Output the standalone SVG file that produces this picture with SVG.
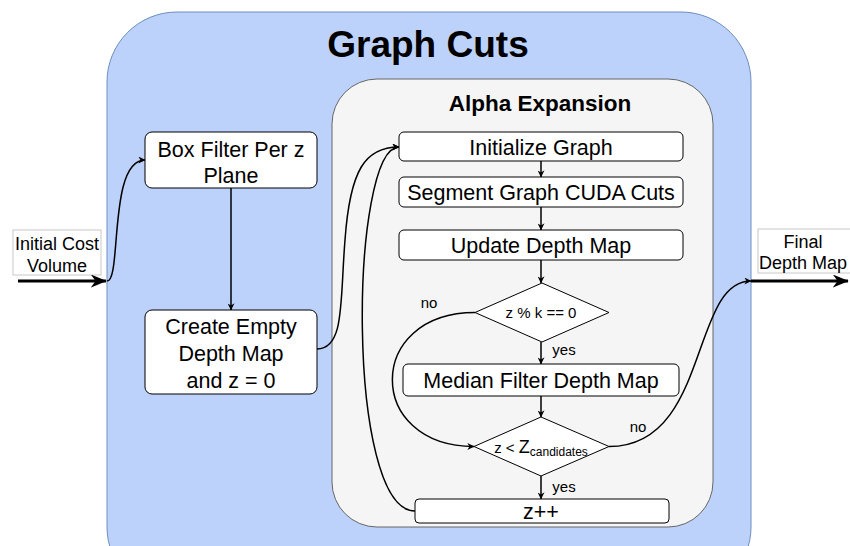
<svg xmlns="http://www.w3.org/2000/svg" width="850" height="546" viewBox="0 0 850 546">
  <defs>
    <style>
      text { font-family: "Liberation Sans", Arial, Helvetica, sans-serif; fill: #000; }
      .node { fill: #ffffff; stroke: #000; stroke-width: 1; }
      .lbl { fill: #ffffff; stroke: #c8c8c8; stroke-width: 1; }
      .t { font-size: 21.5px; text-anchor: middle; }
      .io { font-size: 18px; text-anchor: middle; }
      .s { font-size: 15px; }
      .edge { fill: none; stroke: #000; stroke-width: 1.5; }
      .thick { fill: none; stroke: #000; stroke-width: 3; }
    </style>
    <marker id="arr" viewBox="0 0 10 10" refX="9.5" refY="5" markerWidth="7" markerHeight="7" markerUnits="userSpaceOnUse" orient="auto">
      <path d="M0,0 L10,5 L0,10 L3,5 Z" fill="#000"/>
    </marker>
    <marker id="arrBig" viewBox="0 0 10 10" refX="9.5" refY="5" markerWidth="16" markerHeight="13" markerUnits="userSpaceOnUse" orient="auto" preserveAspectRatio="none">
      <path d="M0,0 L10,5 L0,10 L3,5 Z" fill="#000"/>
    </marker>
  </defs>

  <!-- outer container -->
  <g id="graph-cuts">
    <rect x="107" y="12" width="644" height="585" rx="70" ry="70" fill="#bdd2fb" stroke="#6c8ebf" stroke-width="1"/>
    <text x="428" y="57" font-size="37" font-weight="bold" text-anchor="middle">Graph Cuts</text>
  </g>

  <!-- inner container -->
  <g id="alpha-expansion">
    <rect x="332" y="79" width="381" height="448" rx="45" ry="45" fill="#f5f5f5" stroke="#666666" stroke-width="1"/>
    <text x="540" y="111" font-size="22.5" font-weight="bold" text-anchor="middle">Alpha Expansion</text>
  </g>

  <g id="initial-cost-volume">
    <rect class="lbl" x="13" y="230" width="88" height="45"/>
    <text class="io" x="57" y="250">Initial Cost</text>
    <text class="io" x="57" y="272">Volume</text>
  </g>

  <g id="final-depth-map">
    <rect class="lbl" x="758" y="229" width="95" height="44"/>
    <text class="io" x="803" y="248">Final</text>
    <text class="io" x="803" y="269">Depth Map</text>
  </g>

  <g id="box-filter">
    <rect class="node" x="145" y="132" width="172" height="56" rx="7"/>
    <text class="t" x="231" y="157">Box Filter Per z</text>
    <text class="t" x="231" y="183">Plane</text>
  </g>

  <g id="create-empty">
    <rect class="node" x="145" y="310" width="172" height="84" rx="7"/>
    <text class="t" x="231" y="334">Create Empty</text>
    <text class="t" x="231" y="361">Depth Map</text>
    <text class="t" x="231" y="388">and z = 0</text>
  </g>

  <g id="initialize-graph">
    <rect class="node" x="399" y="132" width="284" height="29" rx="5"/>
    <text class="t" x="541" y="155">Initialize Graph</text>
  </g>

  <g id="segment-graph">
    <rect class="node" x="399" y="177" width="284" height="30" rx="5"/>
    <text class="t" x="541" y="200">Segment Graph CUDA Cuts</text>
  </g>

  <g id="update-depth">
    <rect class="node" x="399" y="230" width="284" height="30" rx="5"/>
    <text class="t" x="541" y="253">Update Depth Map</text>
  </g>

  <g id="check-k">
    <polygon class="node" points="542,283 609,312.5 542,342 475,312.5"/>
    <text x="541" y="318" font-size="15" text-anchor="middle">z % k == 0</text>
  </g>

  <g id="median-filter">
    <rect class="node" x="403" y="364" width="276" height="32" rx="5"/>
    <text class="t" x="541" y="388">Median Filter Depth Map</text>
  </g>

  <g id="check-z">
    <polygon class="node" points="541,417 609,446.5 541,476 474,446.5"/>
    <text x="541" y="453" text-anchor="middle"><tspan font-size="15">z &lt; </tspan><tspan font-size="18">Z</tspan><tspan font-size="12" dy="3">candidates</tspan></text>
  </g>

  <g id="increment-z">
    <rect class="node" x="415" y="499" width="254" height="24" rx="4"/>
    <text class="t" x="541" y="519">z++</text>
  </g>

  <!-- connectors -->
  <g id="connectors">
    <path class="thick" d="M18,281 L106,281" marker-end="url(#arrBig)"/>
    <path class="thick" d="M751,281 L848,281" marker-end="url(#arrBig)"/>
    <path class="edge" d="M107,281 C122,281 108,160 145,160" marker-end="url(#arr)"/>
    <path class="edge" d="M231,188 L231,310" marker-end="url(#arr)"/>
    <path class="edge" d="M317,349 C345,349 340,300 345,240 C350,170 365,147 399,147" marker-end="url(#arr)"/>
    <path class="edge" d="M415,511 C345,511 350,147 399,147" marker-end="url(#arr)"/>
    <path class="edge" d="M541,161 L541,177" marker-end="url(#arr)"/>
    <path class="edge" d="M541,207 L541,230" marker-end="url(#arr)"/>
    <path class="edge" d="M541,260 L541,283" marker-end="url(#arr)"/>
    <path class="edge" d="M541,342 L541,364" marker-end="url(#arr)"/>
    <path class="edge" d="M541,396 L541,417" marker-end="url(#arr)"/>
    <path class="edge" d="M541,476 L541,499" marker-end="url(#arr)"/>
    <path class="edge" d="M475,312.5 C365,312.5 365,446.5 474,446.5" marker-end="url(#arr)"/>
    <path class="edge" d="M609,446.5 C710,446.5 690,281 751,281" marker-end="url(#arr)"/>
    <text class="s" x="429" y="308" text-anchor="middle">no</text>
    <text class="s" x="564" y="355" text-anchor="middle">yes</text>
    <text class="s" x="638" y="432" text-anchor="middle">no</text>
    <text class="s" x="564" y="492" text-anchor="middle">yes</text>
  </g>
</svg>
